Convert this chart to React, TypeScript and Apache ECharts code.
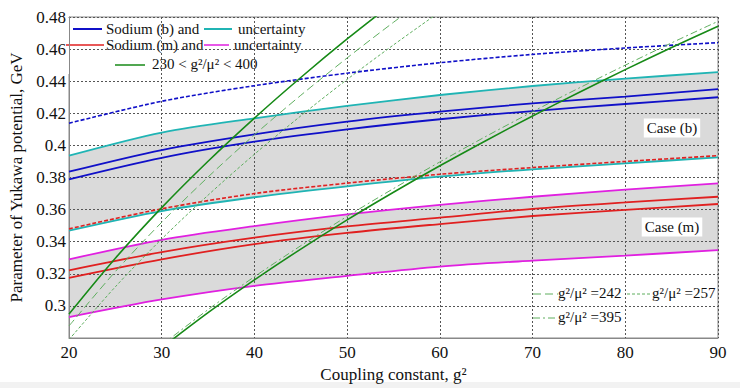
import React, { useEffect, useRef } from "react";
import * as echarts from "echarts";

const X = [20, 30, 40, 50, 60, 70, 80, 90];
const cyanUpper = [0.3936, 0.408, 0.4169, 0.4246, 0.4314, 0.437, 0.4416, 0.4457];
const blueUpper = [0.3836, 0.3971, 0.4069, 0.4148, 0.421, 0.4262, 0.4304, 0.435];
const blueLower = [0.3789, 0.3923, 0.4023, 0.41, 0.4163, 0.4214, 0.4258, 0.43];
const blueDashed = [0.4138, 0.4275, 0.4372, 0.445, 0.4515, 0.4567, 0.4607, 0.464];
const cyanLower = [0.3469, 0.3591, 0.3677, 0.3745, 0.3805, 0.3851, 0.3888, 0.3926];
const redDashed = [0.348, 0.3605, 0.37, 0.3765, 0.382, 0.3862, 0.39, 0.3936];
const magentaUpper = [0.329, 0.3412, 0.3497, 0.357, 0.363, 0.368, 0.3724, 0.3764];
const redUpper = [0.3222, 0.3335, 0.3425, 0.3495, 0.355, 0.3605, 0.3645, 0.368];
const redLower = [0.3175, 0.329, 0.3385, 0.3455, 0.351, 0.356, 0.3598, 0.3635];
const magentaLower = [0.293, 0.304, 0.3125, 0.3187, 0.3245, 0.3282, 0.3313, 0.3348];

const gX230 = [20, 25, 30, 35, 40, 45, 50, 55];
const g230 = [0.2949, 0.3297, 0.3612, 0.3901, 0.417, 0.4423, 0.4663, 0.489];
const gX242 = [20, 25, 30, 35, 40, 45, 50, 55, 60];
const g242 = [0.2875, 0.3214, 0.3521, 0.3803, 0.4066, 0.4312, 0.4545, 0.4767, 0.4979];
const gX257 = [20, 25, 30, 35, 40, 45, 50, 55, 60];
const g257 = [0.279, 0.3119, 0.3417, 0.369, 0.3945, 0.4184, 0.4411, 0.4626, 0.4832];
const gX400 = [30, 35, 40, 45, 50, 55, 60, 65, 70, 75, 80, 85, 90];
const g400 = [0.2739, 0.2958, 0.3162, 0.3354, 0.3536, 0.3708, 0.3873, 0.4031, 0.4183, 0.433, 0.4472, 0.461, 0.4743];
const gX395 = [30, 35, 40, 45, 50, 55, 60, 65, 70, 75, 80, 85, 90];
const g395 = [0.2756, 0.2977, 0.3182, 0.3375, 0.3558, 0.3731, 0.3897, 0.4057, 0.421, 0.4357, 0.45, 0.4639, 0.4773];

const xTicks = [20, 30, 40, 50, 60, 70, 80, 90];
const yTicks = [0.3, 0.32, 0.34, 0.36, 0.38, 0.4, 0.42, 0.44, 0.46, 0.48];

const FONT = "Liberation Serif, Times New Roman, Times, DejaVu Serif, serif";
const BLUE = "#1010c8";
const CYAN = "#20b4b4";
const RED = "#e02020";
const MAGENTA = "#e020e0";
const GREEN = "#178a17";
const LGREEN = "#5fae5f";

const pairs = (xs: number[], ys: number[]) => xs.map((x, i) => [x, ys[i]]);

const band = (upper: number[], lower: number[]) => ({
  type: "custom",
  coordinateSystem: "cartesian2d",
  silent: true,
  z: -1,
  data: [[50, 0.38]],
  renderItem: (_p: any, api: any) => {
    const pts: number[][] = [];
    X.forEach((x, i) => pts.push(api.coord([x, upper[i]])));
    for (let i = X.length - 1; i >= 0; i--) pts.push(api.coord([X[i], lower[i]]));
    return { type: "polygon", shape: { points: pts }, style: { fill: "#dadada", stroke: null } };
  },
});

const line = (data: number[][], color: string, width: number, type: any = "solid", smooth = true) => ({
  type: "line",
  data,
  smooth: smooth ? 0.3 : false,
  showSymbol: false,
  symbol: "none",
  clip: true,
  lineStyle: { color, width, type },
  silent: true,
});

const txt = (text: string, x: number, y: number, size: number, extra: any = {}) => ({
  type: "text",
  x,
  y,
  style: { text, font: `${size}px ${FONT}`, fontFamily: FONT, fontSize: size, fill: "#111", verticalAlign: "middle", ...extra },
});

export default function App() {
  const ref = useRef<HTMLDivElement>(null);
  useEffect(() => {
    const chart = echarts.init(ref.current!, null, { renderer: "svg" });
    const legendItems: any[] = [
      { type: "rect", shape: { x: 66, y: 18, width: 242, height: 56 }, style: { fill: "#fff" } },
      { type: "line", shape: { x1: 73, y1: 29, x2: 102, y2: 29 }, style: { stroke: BLUE, lineWidth: 2 } },
      txt("Sodium (b) and", 106, 29, 15),
      { type: "line", shape: { x1: 204, y1: 29, x2: 232, y2: 29 }, style: { stroke: CYAN, lineWidth: 2 } },
      txt("uncertainty", 238, 29, 15),
      { type: "line", shape: { x1: 66, y1: 45, x2: 104, y2: 45 }, style: { stroke: RED, lineWidth: 1.5 } },
      txt("Sodium (m) and", 106, 45, 15),
      { type: "line", shape: { x1: 204, y1: 45, x2: 229, y2: 45 }, style: { stroke: MAGENTA, lineWidth: 1.5 } },
      txt("uncertainty", 234, 45, 15),
      { type: "line", shape: { x1: 115, y1: 65, x2: 145, y2: 65 }, style: { stroke: GREEN, lineWidth: 1.5 } },
      txt("230 < g²/μ² < 400", 152, 64, 15),

      txt("Case (b)", 672, 128, 15, { align: "center", backgroundColor: "#fff", padding: [2, 3] }),
      txt("Case (m)", 672, 227, 15, { align: "center", backgroundColor: "#fff", padding: [2, 3] }),

      { type: "line", shape: { x1: 533, y1: 294, x2: 558, y2: 294 }, style: { stroke: LGREEN, lineWidth: 1, lineDash: [8, 4] } },
      txt("g²/μ² =242", 558, 293, 15),
      { type: "line", shape: { x1: 627, y1: 294, x2: 652, y2: 294 }, style: { stroke: LGREEN, lineWidth: 1, lineDash: [3, 2] } },
      txt("g²/μ² =257", 652, 293, 15),
      { type: "line", shape: { x1: 533, y1: 318, x2: 558, y2: 318 }, style: { stroke: LGREEN, lineWidth: 1, lineDash: [7, 3, 2, 3] } },
      txt("g²/μ² =395", 558, 317, 15),

      { type: "rect", shape: { x: 0, y: 382, width: 740, height: 6 }, style: { fill: "#f2f2f2" } },
    ];
    chart.setOption({
      animation: false,
      backgroundColor: "#fff",
      textStyle: { fontFamily: FONT },
      grid: { left: 65, right: 22, top: 17, bottom: 50, show: true, borderColor: "#888", borderWidth: 1 },
      xAxis: {
        type: "value",
        min: 20,
        max: 90,
        interval: 10,
        name: "Coupling constant, g²",
        nameLocation: "middle",
        nameGap: 28,
        nameTextStyle: { fontFamily: FONT, fontSize: 17, color: "#111" },
        axisLine: { lineStyle: { color: "#888" } },
        axisTick: { show: false },
        axisLabel: { fontFamily: FONT, fontSize: 17, color: "#111", margin: 6, formatter: (v: number) => (xTicks.includes(v) ? String(v) : "") },
        splitLine: { show: true, lineStyle: { color: "#555", type: [2, 2], width: 1 } },
      },
      yAxis: {
        type: "value",
        min: 0.28,
        max: 0.48,
        interval: 0.02,
        name: "Parameter of Yukawa potential, GeV",
        nameLocation: "middle",
        nameGap: 44,
        nameTextStyle: { fontFamily: FONT, fontSize: 17, color: "#111" },
        axisLine: { show: true, lineStyle: { color: "#888" } },
        axisTick: { show: false },
        axisLabel: {
          fontFamily: FONT,
          fontSize: 17,
          color: "#111",
          margin: 3,
          formatter: (v: number) => {
            const r = parseFloat(v.toFixed(2));
            return yTicks.some((t) => Math.abs(t - r) < 1e-6) ? String(r) : "";
          },
        },
        splitLine: { show: true, lineStyle: { color: "#555", type: [2, 2], width: 1 } },
      },
      series: [
        band(cyanUpper, cyanLower),
        band(magentaUpper, magentaLower),
        line(pairs(X, blueDashed), BLUE, 1.6, [4, 2]),
        line(pairs(X, cyanUpper), CYAN, 1.8),
        line(pairs(X, blueUpper), BLUE, 1.8),
        line(pairs(X, blueLower), BLUE, 1.8),
        line(pairs(X, cyanLower), CYAN, 1.8),
        line(pairs(X, redDashed), RED, 1.6, [4, 2]),
        line(pairs(X, magentaUpper), MAGENTA, 1.8),
        line(pairs(X, redUpper), RED, 1.8),
        line(pairs(X, redLower), RED, 1.8),
        line(pairs(X, magentaLower), MAGENTA, 1.8),
        line(pairs(gX242, g242), LGREEN, 1, [8, 4]),
        line(pairs(gX257, g257), LGREEN, 1, [3, 2]),
        line(pairs(gX395, g395), LGREEN, 1, [7, 3, 2, 3]),
        line(pairs(gX230, g230), GREEN, 1.6),
        line(pairs(gX400, g400), GREEN, 1.6),
      ],
      graphic: { elements: legendItems },
    });
    return () => chart.dispose();
  }, []);
  return <div ref={ref} style={{ position: "fixed", left: 0, top: 0, width: 740, height: 388 }} />;
}
